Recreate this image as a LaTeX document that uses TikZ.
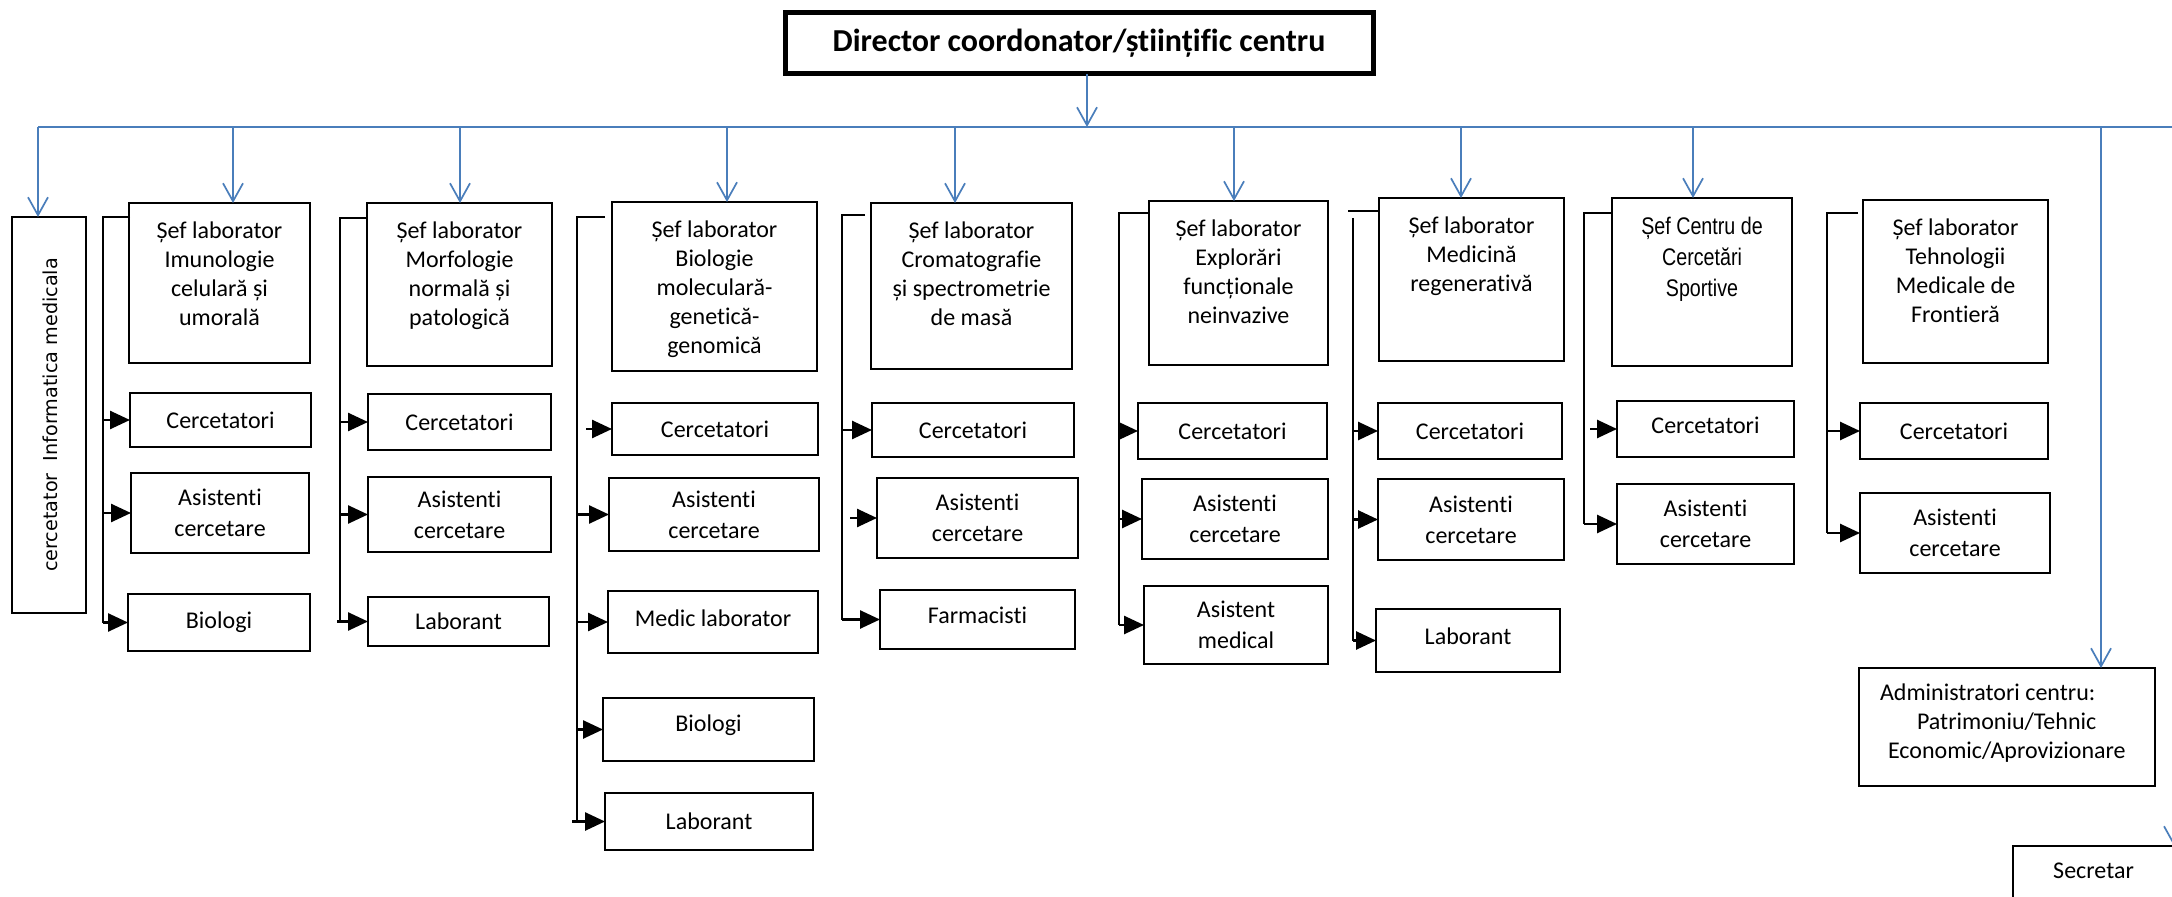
\documentclass[tikz,border=0pt]{standalone}
\usepackage{fontspec}
\setmainfont{Carlito}[Ligatures={NoCommon}]
\newfontfamily\vertfont{DejaVu Sans}
\newfontfamily\narrowfont[FakeStretch=0.82]{Liberation Sans}
\usetikzlibrary{arrows.meta,fit}
\definecolor{conblue}{RGB}{74,126,187}
\begin{document}
\begin{tikzpicture}[x=0.5pt,y=-0.5pt,
  every node/.style={inner sep=0pt,outer sep=0pt},
  kbox/.style={draw=black,line width=0.85pt,fit={#1}},
  subtxt/.style={align=center,font=\fontsize{12}{15.5}\selectfont},
  seftxt/.style={anchor=north,align=center,font=\fontsize{12}{14.5}\selectfont,yshift=-9.6pt},
  kline/.style={draw=black,line width=1pt},
  karrow/.style={draw=black,line width=1.3pt,-{Triangle[length=10pt 0,width=9pt 0]}},
  bline/.style={draw=conblue,line width=0.85pt},
  barrow/.style={bline,-{Straight Barb[length=9pt,width=10pt]}}
]
\fill[white] (0,0) rectangle (2172,897);
\useasboundingbox (0,0) rectangle (2172,897);

% director
\node[draw=black,line width=2.5pt,fit={(785,13) (1373,74)}] (dir) {};
\node[font=\bfseries\fontsize{16}{19}\selectfont] (dirt) at (dir.center) {Director coordonator/științific centru};

% blue bus
\coordinate (hl) at (38,127);
\coordinate (hr) at (2185,127);
\draw[bline] (hl) -- (hr);
\coordinate (dj) at (1087,127);
\draw[barrow] (dj |- dir.south) -- (dj);

% left vertical box
\node[kbox={(12,217) (86,613)}] (L) {};
\node[rotate=90,font=\vertfont\fontsize{9.6}{11}\selectfont] (Lt) at (50,415) {cercetator\ \ Informatica medicala};
\draw[barrow] (hl) -- (hl |- L.north);

% chief boxes
\node[kbox={(129,203) (310,363)}] (s1) {};
\node[kbox={(367,203) (552,366)}] (s2) {};
\node[kbox={(612,202) (817,371)}] (s3) {};
\node[kbox={(871,203) (1072,369)}] (s4) {};
\node[kbox={(1149,201) (1328,365)}] (s5) {};
\node[kbox={(1379,198) (1564,361)}] (s6) {};
\node[kbox={(1612,198) (1792,366)}] (s7) {};
\node[kbox={(1863,200) (2048,363)}] (s8) {};

\node[seftxt] (s1t) at (s1.north) {Șef laborator\\Imunologie\\celulară și\\umorală};
\node[seftxt] (s2t) at (s2.north) {Șef laborator\\Morfologie\\normală și\\patologică};
\node[seftxt] (s3t) at (s3.north) {Șef laborator\\Biologie\\moleculară-\\genetică-\\genomică};
\node[seftxt] (s4t) at (s4.north) {Șef laborator\\Cromatografie\\și spectrometrie\\de masă};
\node[seftxt] (s5t) at (s5.north) {Șef laborator\\Explorări\\funcționale\\neinvazive};
\node[seftxt] (s6t) at (s6.north) {Șef laborator\\Medicină\\regenerativă};
\node[seftxt,font=\narrowfont\fontsize{12}{15.5}\selectfont] (s7t) at (s7.north) {Șef Centru de\\Cercetări\\Sportive};
\node[seftxt] (s8t) at (s8.north) {Șef laborator\\Tehnologii\\Medicale de\\Frontieră};

% blue arrows to chiefs
\coordinate (a1) at (233,127);
\coordinate (a2) at (460,127);
\coordinate (a3) at (727,127);
\coordinate (a4) at (955,127);
\coordinate (a5) at (1234,127);
\coordinate (a6) at (1461,127);
\coordinate (a7) at (1693,127);
\draw[barrow] (a1) -- (a1 |- s1.north);
\draw[barrow] (a2) -- (a2 |- s2.north);
\draw[barrow] (a3) -- (a3 |- s3.north);
\draw[barrow] (a4) -- (a4 |- s4.north);
\draw[barrow] (a5) -- (a5 |- s5.north);
\draw[barrow] (a6) -- (a6 |- s6.north);
\draw[barrow] (a7) -- (a7 |- s7.north);

% sub boxes
\node[kbox={(130,393) (311,447)}] (c1a) {};
\node[kbox={(131,473) (309,553)}] (c1b) {};
\node[kbox={(128,594) (310,651)}] (c1c) {};
\node[subtxt] (c1at) at (c1a.center) {Cercetatori};
\node[subtxt] (c1bt) at (c1b.center) {Asistenti\\cercetare};
\node[subtxt] (c1ct) at (c1c.center) {Biologi};

\node[kbox={(368,394) (551,450)}] (c2a) {};
\node[kbox={(368,477) (551,552)}] (c2b) {};
\node[kbox={(368,597) (549,646)}] (c2c) {};
\node[subtxt] (c2at) at (c2a.center) {Cercetatori};
\node[subtxt] (c2bt) at (c2b.center) {Asistenti\\cercetare};
\node[subtxt] (c2ct) at (c2c.center) {Laborant};

\node[kbox={(612,403) (818,455)}] (c3a) {};
\node[kbox={(609,478) (819,551)}] (c3b) {};
\node[kbox={(608,591) (818,653)}] (c3c) {};
\node[kbox={(603,698) (814,761)}] (c3d) {};
\node[kbox={(605,793) (813,850)}] (c3e) {};
\node[subtxt] (c3at) at (c3a.center) {Cercetatori};
\node[subtxt] (c3bt) at (c3b.center) {Asistenti\\cercetare};
\node[subtxt] (c3ct) at ([yshift=2pt]c3c.center) {Medic laborator};
\node[subtxt] (c3dt) at ([yshift=2pt]c3d.center) {Biologi};
\node[subtxt] (c3et) at (c3e.center) {Laborant};

\node[kbox={(872,403) (1074,457)}] (c4a) {};
\node[kbox={(877,478) (1078,558)}] (c4b) {};
\node[kbox={(880,590) (1075,649)}] (c4c) {};
\node[subtxt] (c4at) at (c4a.center) {Cercetatori};
\node[subtxt] (c4bt) at (c4b.center) {Asistenti\\cercetare};
\node[subtxt] (c4ct) at ([yshift=2pt]c4c.center) {Farmacisti};

\node[kbox={(1138,403) (1327,459)}] (c5a) {};
\node[kbox={(1142,479) (1328,559)}] (c5b) {};
\node[kbox={(1144,586) (1328,664)}] (c5c) {};
\node[subtxt] (c5at) at (c5a.center) {Cercetatori};
\node[subtxt] (c5bt) at (c5b.center) {Asistenti\\cercetare};
\node[subtxt] (c5ct) at (c5c.center) {Asistent\\medical};

\node[kbox={(1378,403) (1562,459)}] (c6a) {};
\node[kbox={(1378,479) (1564,560)}] (c6b) {};
\node[kbox={(1376,609) (1560,672)}] (c6c) {};
\node[subtxt] (c6at) at (c6a.center) {Cercetatori};
\node[subtxt] (c6bt) at (c6b.center) {Asistenti\\cercetare};
\node[subtxt] (c6ct) at ([yshift=2pt]c6c.center) {Laborant};

\node[kbox={(1617,401) (1794,457)}] (c7a) {};
\node[kbox={(1617,484) (1794,564)}] (c7b) {};
\node[subtxt] (c7at) at ([yshift=2pt]c7a.center) {Cercetatori};
\node[subtxt] (c7bt) at (c7b.center) {Asistenti\\cercetare};

\node[kbox={(1860,403) (2048,459)}] (c8a) {};
\node[kbox={(1860,493) (2050,573)}] (c8b) {};
\node[subtxt] (c8at) at (c8a.center) {Cercetatori};
\node[subtxt] (c8bt) at (c8b.center) {Asistenti\\cercetare};

% brackets
\coordinate (k1) at (130,217); \coordinate (v1) at (103,217);
\draw[kline] (k1) -- (v1) -- (v1 |- c1c.west);
\draw[karrow] (v1 |- c1a.west) -- (c1a.west);
\draw[karrow] (v1 |- c1b.west) -- (c1b.west);
\draw[karrow] (v1 |- c1c.west) -- (c1c.west);

\coordinate (k2) at (366,218); \coordinate (v2) at (340,218);
\draw[kline] (k2) -- (v2) -- (v2 |- c2c.west);
\draw[karrow] (v2 |- c2a.west) -- (c2a.west);
\draw[karrow] (v2 |- c2b.west) -- (c2b.west);
\draw[karrow] ([xshift=-1.5pt]v2 |- c2c.west) -- (c2c.west);

\coordinate (k3) at (605,217); \coordinate (v3) at (577,217);
\draw[kline] (k3) -- (v3) -- (v3 |- c3e.west);
\draw[karrow] ([xshift=4.5pt]v3 |- c3a.west) -- (c3a.west);
\draw[karrow] (v3 |- c3b.west) -- (c3b.west);
\draw[karrow] (v3 |- c3c.west) -- (c3c.west);
\draw[karrow] (v3 |- c3d.west) -- (c3d.west);
\draw[karrow] ([xshift=-2.5pt]v3 |- c3e.west) -- (c3e.west);

\coordinate (k4) at (865,215); \coordinate (v4) at (842,215);
\draw[kline] (k4) -- (v4) -- (v4 |- c4c.west);
\draw[karrow] (v4 |- c4a.west) -- (c4a.west);
\draw[karrow] ([xshift=4pt]v4 |- c4b.west) -- (c4b.west);
\draw[karrow] (v4 |- c4c.west) -- (c4c.west);

\coordinate (k5) at (1148,213); \coordinate (v5) at (1119,213);
\draw[kline] (k5) -- (v5) -- (v5 |- c5c.west);
\draw[karrow] (v5 |- c5a.west) -- (c5a.west);
\draw[karrow] (v5 |- c5b.west) -- (c5b.west);
\draw[karrow] (v5 |- c5c.west) -- (c5c.west);

\coordinate (k6) at (1379,211); \coordinate (k6b) at (1348,211); \coordinate (v6) at (1353,218);
\draw[kline] (k6) -- (k6b);
\draw[kline] (v6) -- (v6 |- c6c.west);
\draw[karrow] (v6 |- c6a.west) -- (c6a.west);
\draw[karrow] (v6 |- c6b.west) -- (c6b.west);
\draw[karrow] (v6 |- c6c.west) -- (c6c.west);

\coordinate (k7) at (1612,213); \coordinate (v7) at (1584,213);
\draw[kline] (k7) -- (v7) -- (v7 |- c7b.west);
\draw[karrow] ([xshift=3pt]v7 |- c7a.west) -- (c7a.west);
\draw[karrow] (v7 |- c7b.west) -- (c7b.west);

\coordinate (k8) at (1858,213); \coordinate (v8) at (1827,213);
\draw[kline] (k8) -- (v8) -- (v8 |- c8b.west);
\draw[karrow] (v8 |- c8a.west) -- (c8a.west);
\draw[karrow] (v8 |- c8b.west) -- (c8b.west);

% administrators
\node[kbox={(1859,668) (2155,786)}] (adm) {};
\node[anchor=north west,align=left,font=\fontsize{12}{14.5}\selectfont] (admt) at (1880,684) {Administratori centru:\\\hspace*{18.5pt}Patrimoniu/Tehnic\\\hspace*{4pt}Economic/Aprovizionare};
\coordinate (a8) at (2101,127);
\draw[barrow] (a8) -- (a8 |- adm.north);

% secretary
\node[kbox={(2013,846) (2174,900)}] (sec) {};
\node[subtxt] (sect) at ([yshift=1pt]sec.center) {Secretar};
\coordinate (a9) at (2174,127);
\draw[barrow] (a9) -- (a9 |- sec.north);
\end{tikzpicture}
\end{document}
